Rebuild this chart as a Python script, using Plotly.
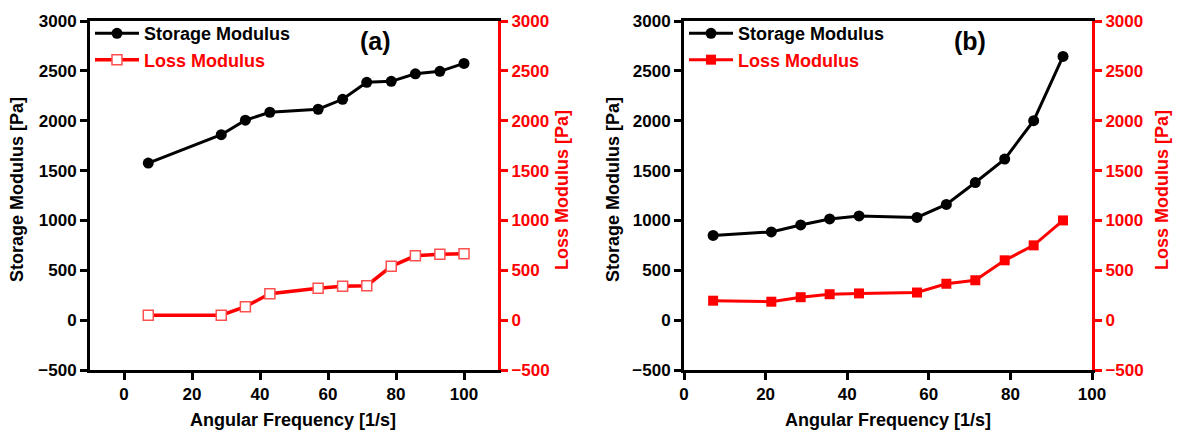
import plotly.graph_objects as go

# Angular frequency sweeps [1/s]
freq_a = [7.14, 28.6, 35.7, 42.9, 57.1, 64.3, 71.4, 78.6, 85.7, 92.9, 100.0]
freq_b = [7.14, 21.4, 28.6, 35.7, 42.9, 57.1, 64.3, 71.4, 78.6, 85.7, 92.9]

# Moduli [Pa]
storage_a = [1575, 1860, 2005, 2085, 2115, 2215, 2385, 2395, 2470, 2495, 2575]
loss_a = [50, 50, 135, 265, 320, 340, 345, 540, 645, 660, 665]
storage_b = [850, 885, 955, 1015, 1045, 1030, 1160, 1380, 1615, 2000, 2645]
loss_b = [195, 185, 230, 260, 268, 277, 365, 400, 600, 750, 1000]

y_ticks = [-500, 0, 500, 1000, 1500, 2000, 2500, 3000]
x_ticks = [0, 20, 40, 60, 80, 100]

BLACK = "#000000"
RED = "#FF0000"
FONT = "Liberation Sans, Arial, sans-serif"

W, H = 1181, 438
ML, MR, MT, MB = 90, 89, 17, 68
PW, PH = W - ML - MR, H - MT - MB


def px_x(px):
    return (px - ML) / PW


def px_y(py):
    return 1 - (py - MT) / PH


fig = go.Figure()

fig.add_trace(go.Scatter(
    x=freq_a, y=storage_a, name="Storage Modulus", mode="lines+markers",
    xaxis="x", yaxis="y", legend="legend",
    line=dict(color=BLACK, width=3),
    marker=dict(symbol="circle", size=11, color=BLACK),
))
fig.add_trace(go.Scatter(
    x=freq_a, y=loss_a, name="<span style='color:#FF0000'>Loss Modulus</span>",
    mode="lines+markers", xaxis="x", yaxis="y2", legend="legend",
    line=dict(color=RED, width=3.5),
    marker=dict(symbol="square", size=10, color="white",
                line=dict(color="#FF5050", width=1.5)),
))
fig.add_trace(go.Scatter(
    x=freq_b, y=storage_b, name="Storage Modulus", mode="lines+markers",
    xaxis="x2", yaxis="y3", legend="legend2",
    line=dict(color=BLACK, width=3),
    marker=dict(symbol="circle", size=11, color=BLACK),
))
fig.add_trace(go.Scatter(
    x=freq_b, y=loss_b, name="<span style='color:#FF0000'>Loss Modulus</span>",
    mode="lines+markers", xaxis="x2", yaxis="y4", legend="legend2",
    line=dict(color=RED, width=3),
    marker=dict(symbol="square", size=10, color=RED),
))

tick_font = dict(family=FONT, size=17, weight="bold")
dom_a = [0, px_x(498)]
dom_b = [px_x(684), 1]

xcommon = dict(
    tickvals=x_ticks, ticks="outside", ticklen=7, tickwidth=3, tickcolor=BLACK,
    showline=True, linewidth=3, linecolor=BLACK, mirror=True,
    showgrid=False, zeroline=False, tickfont=dict(color=BLACK, **tick_font),
)
yleft = dict(
    range=[-500, 3000], tickvals=y_ticks, ticks="outside", ticklen=7, tickwidth=3,
    tickcolor=BLACK, showline=True, linewidth=3, linecolor=BLACK,
    showgrid=False, zeroline=False, tickfont=dict(color=BLACK, **tick_font),
)
yright = dict(
    range=[-500, 3000], tickvals=y_ticks, ticks="outside", ticklen=7, tickwidth=3,
    tickcolor=RED, showline=True, linewidth=3, linecolor=RED, side="right",
    showgrid=False, zeroline=False, tickfont=dict(color=RED, **tick_font),
)

legend_style = dict(
    y=px_y(11), xanchor="left", yanchor="top",
    bgcolor="rgba(0,0,0,0)", itemwidth=44, tracegroupgap=0,
    font=dict(family=FONT, size=18, weight="bold", color=BLACK),
)

fig.update_layout(
    width=W, height=H,
    margin=dict(l=ML, r=MR, t=MT, b=MB),
    paper_bgcolor="white", plot_bgcolor="white",
    font=dict(family=FONT, color=BLACK),
    xaxis=dict(domain=dom_a, range=[-10, 110], anchor="y", **xcommon),
    yaxis=dict(domain=[0, 1], anchor="x", **yleft),
    yaxis2=dict(overlaying="y", anchor="x", **yright),
    xaxis2=dict(domain=dom_b, range=[0, 100], anchor="y3", **xcommon),
    yaxis3=dict(domain=[0, 1], anchor="x2", **yleft),
    yaxis4=dict(overlaying="y3", anchor="x2", **yright),
    legend=dict(x=0, **legend_style),
    legend2=dict(x=dom_b[0], **legend_style),
    showlegend=True,
)

title_font = dict(family=FONT, size=18, weight="bold")
annos = [
    dict(text="(a)", x=px_x(375), y=px_y(37), font=dict(family=FONT, size=25, color=BLACK)),
    dict(text="(b)", x=px_x(970), y=px_y(37), font=dict(family=FONT, size=25, color=BLACK)),
    dict(text="Angular Frequency [1/s]", x=px_x(293), y=px_y(421),
         font=dict(color=BLACK, **title_font)),
    dict(text="Angular Frequency [1/s]", x=px_x(888), y=px_y(421),
         font=dict(color=BLACK, **title_font)),
    dict(text="Storage Modulus [Pa]", x=px_x(17), y=px_y(188), textangle=-90,
         font=dict(color=BLACK, **title_font)),
    dict(text="Loss Modulus [Pa]", x=px_x(562), y=px_y(188), textangle=-90,
         font=dict(color=RED, **title_font)),
    dict(text="Storage Modulus [Pa]", x=px_x(613), y=px_y(188), textangle=-90,
         font=dict(color=BLACK, **title_font)),
    dict(text="Loss Modulus [Pa]", x=px_x(1162), y=px_y(188), textangle=-90,
         font=dict(color=RED, **title_font)),
]
for a in annos:
    a.update(xref="paper", yref="paper", showarrow=False,
             xanchor="center", yanchor="middle")
    if a["text"].startswith("("):
        a["font"]["weight"] = "bold"
fig.update_layout(annotations=annos)

fig.write_html("out.html")
